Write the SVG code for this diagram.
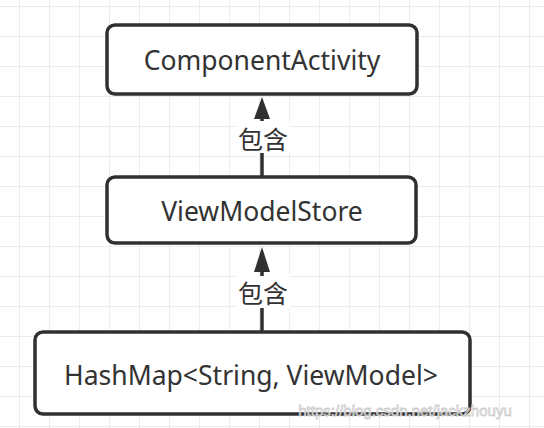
<svg xmlns="http://www.w3.org/2000/svg" width="544" height="428" viewBox="0 0 544 428">
<style>
.node rect{fill:#fff;stroke:#303030;stroke-width:3.5}
.label{font-family:"Noto Sans","Liberation Sans",sans-serif;font-size:26.5px;fill:#333;text-anchor:middle;dominant-baseline:central}
.cjk{font-family:"Noto Sans CJK SC",sans-serif;font-size:25px;fill:#333;text-anchor:middle;dominant-baseline:central}
.edge line{stroke:#303030;stroke-width:3.5}
.edge polygon{fill:#303030}
.lblbg{fill:#fff}
</style>
<defs>
<pattern id="grid" x="19" y="6" width="30" height="30" patternUnits="userSpaceOnUse">
<path d="M0 0V30M0 0H30" fill="none" stroke="#ececec" stroke-width="2"/>
</pattern>
</defs>
<rect width="544" height="428" fill="#fff"/>
<rect width="544" height="428" fill="url(#grid)"/>
<g id="connectors" class="edge">
<line x1="262" y1="177" x2="262" y2="115"/>
<polygon points="262,97 254,119 270,119"/>
<rect class="lblbg" x="236" y="121" width="54" height="32"/>
<text class="cjk" x="263" y="138">包含</text>
<line x1="262" y1="332" x2="262" y2="265"/>
<polygon points="262,247 254,272 270,272"/>
<rect class="lblbg" x="236" y="276" width="54" height="32"/>
<text class="cjk" x="263" y="292">包含</text>
</g>
<g id="node-componentactivity" class="node">
<rect x="107" y="25" width="310" height="69" rx="8"/>
<text class="label" x="262" y="60">ComponentActivity</text>
</g>
<g id="node-viewmodelstore" class="node">
<rect x="107" y="177" width="309" height="66" rx="8"/>
<text class="label" x="262" y="211">ViewModelStore</text>
</g>
<g id="node-hashmap" class="node">
<rect x="35" y="332" width="435" height="82" rx="8"/>
<text class="label" x="251" y="375">HashMap&lt;String, ViewModel&gt;</text>
</g>
<text x="405" y="410" font-family="Liberation Sans,sans-serif" font-size="15" fill="#fff" stroke="#c8c8c8" stroke-width="0.8" text-anchor="middle" dominant-baseline="central" opacity="0.9">https://blog.csdn.net/jackzhouyu</text>
</svg>
